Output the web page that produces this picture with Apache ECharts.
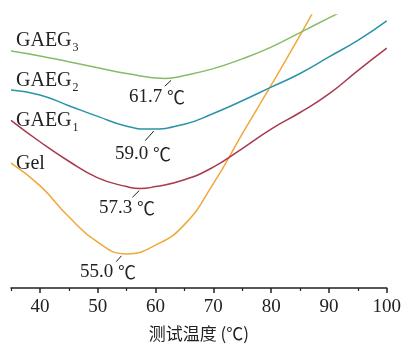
<!DOCTYPE html>
<html><head><meta charset="utf-8">
<script src="https://cdn.jsdelivr.net/npm/echarts@6/dist/echarts.min.js"></script>
<style>html,body{margin:0;padding:0;background:#fff}#c{width:404px;height:347px}</style>
</head><body><div id="c"></div>
<script>
// temperatures (°C) and curve values (arbitrary units, higher = up)
const gelT   = [35, 40, 45, 50, 55, 60, 65, 70, 75, 80, 85, 90, 95, 100];
const gelV   = [128, 105, 73, 47, 35, 44, 65, 107, 158, 208, 259, 312, 360, 410];
const gaeg1T = [35, 40, 45, 50, 55, 57.3, 60, 65, 70, 75, 80, 85, 90, 95, 100];
const gaeg1V = [172, 150, 130, 113, 104, 102, 104, 111, 124, 143, 163, 180, 199, 223, 246];
const gaeg2T = [35, 40, 45, 50, 55, 59.0, 65, 70, 75, 80, 85, 90, 95, 100];
const gaeg2V = [203, 198, 187, 176, 166, 163, 168, 179, 192, 206, 220, 237, 254, 274];
const gaeg3T = [35, 40, 45, 50, 55, 61.7, 65, 70, 75, 80, 85, 90, 95, 100];
const gaeg3V = [243, 238, 232, 226, 220, 215, 218, 225, 235, 247, 262, 277, 292, 308];
const majorTicks = [40, 50, 60, 70, 80, 90, 100];
const minorTicks = [35, 45, 55, 65, 75, 85, 95];
const annotations = ['61.7', '59.0', '57.3', '55.0'];

function pts(ts, vs) { return ts.map((t, i) => [t, vs[i]]); }
const serif = '"Liberation Serif","Noto Sans CJK SC",serif';
const cjk = '"Noto Sans CJK SC",sans-serif';
function leader(p1, p2) {
  return {silent: true, symbol: 'none', animation: false,
    lineStyle: {color: '#222', width: 1, type: 'solid'},
    label: {show: false}, data: [[{coord: p1}, {coord: p2}]]};
}
function sub(main, s, top) {
  return {type: 'text', left: 16, top: top, style: {text: '{m|' + main + '}{s|' + s + '}',
    rich: {m: {fontSize: 20, fontFamily: serif, fill: '#222'},
           s: {fontSize: 12, fontFamily: serif, fill: '#222', padding: [13, 0, 0, 1]}}}};
}
function ann(t, left, top) {
  return {type: 'text', left: left, top: top, style: {text: '{n|' + t + ' }{c|℃}',
    rich: {n: {fontSize: 19, fontFamily: serif, fill: '#222'},
           c: {fontSize: 18, fontFamily: cjk, fill: '#222'}}}};
}
const chart = echarts.init(document.getElementById('c'));
chart.setOption({
  animation: false,
  grid: {left: 11, right: 15, top: 15, bottom: 52},
  xAxis: [{
    type: 'value', min: 35, max: 100,
    axisLine: {lineStyle: {color: '#222', width: 1.5}},
    axisTick: {length: 5, customValues: majorTicks, lineStyle: {color: '#222', width: 1.5}},
    splitLine: {show: false},
    axisLabel: {color: '#222', fontSize: 19, fontFamily: serif, margin: 10, customValues: majorTicks},
    name: '测试温度 (℃)', nameLocation: 'middle', nameGap: 37,
    nameTextStyle: {color: '#222', fontSize: 17, fontFamily: cjk}
  }, {
    type: 'value', min: 35, max: 100, position: 'bottom',
    axisLine: {show: false},
    axisTick: {length: 3, customValues: minorTicks, lineStyle: {color: '#222', width: 1.2}},
    axisLabel: {show: false}, splitLine: {show: false}
  }],
  yAxis: {type: 'value', min: 0, max: 280, show: false},
  series: [
    {name: 'Gel', type: 'line', data: pts(gelT, gelV), smooth: 0.5, showSymbol: false, clip: true,
     lineStyle: {color: '#efa83a', width: 1.5},
     markLine: leader([54.1, 33], [53.2, 27])},
    {name: 'GAEG1', type: 'line', data: pts(gaeg1T, gaeg1V), smooth: 0.5, showSymbol: false, clip: true,
     lineStyle: {color: '#a8394f', width: 1.5},
     markLine: leader([57.2, 100], [56.0, 93])},
    {name: 'GAEG2', type: 'line', data: pts(gaeg2T, gaeg2V), smooth: 0.5, showSymbol: false, clip: true,
     lineStyle: {color: '#2a93a8', width: 1.5},
     markLine: leader([59.7, 161], [58.2, 151])},
    {name: 'GAEG3', type: 'line', data: pts(gaeg3T, gaeg3V), smooth: 0.5, showSymbol: false, clip: true,
     lineStyle: {color: '#86bb68', width: 1.5},
     markLine: leader([62.7, 213], [61.6, 207])}
  ],
  graphic: [
    sub('GAEG', '3', 31),
    sub('GAEG', '2', 71),
    sub('GAEG', '1', 111),
    {type: 'text', left: 16, top: 154, style: {text: 'Gel', fontSize: 20, fontFamily: serif, fill: '#222'}},
    ann(annotations[0], 129, 88),
    ann(annotations[1], 115, 145),
    ann(annotations[2], 99, 199),
    ann(annotations[3], 80, 263)
  ]
});
</script></body></html>
